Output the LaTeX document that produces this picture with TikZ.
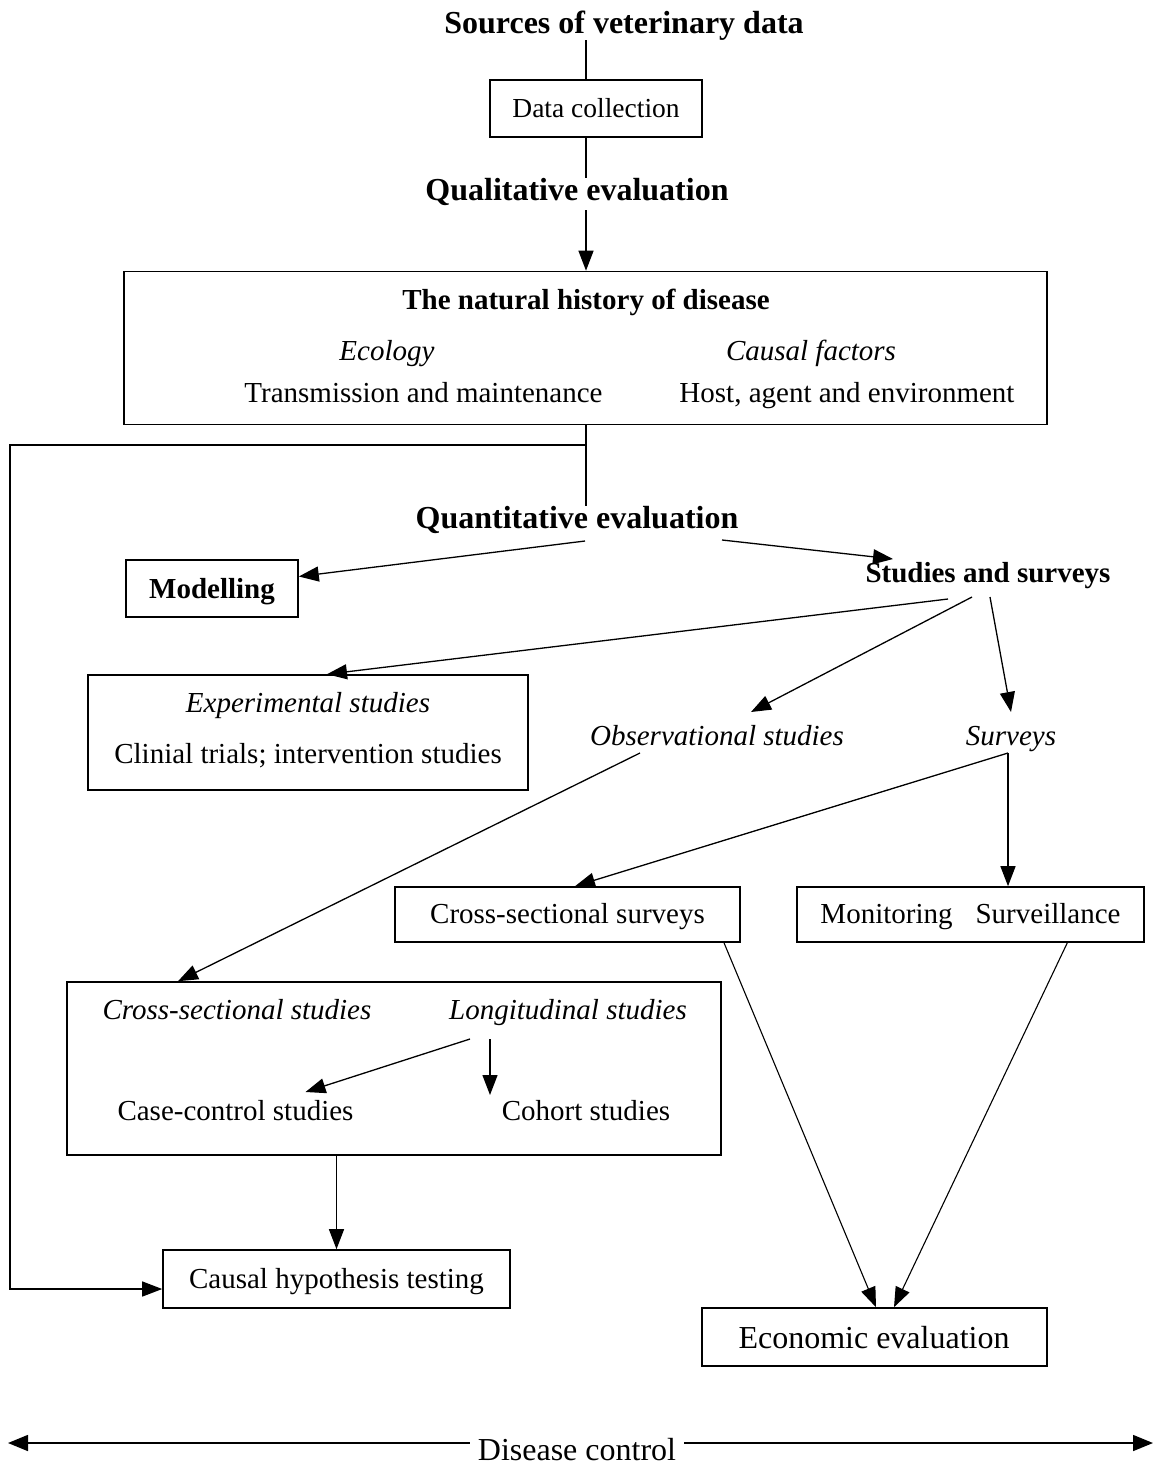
\documentclass[tikz,border=0pt]{standalone}
\usepackage{fontspec}
\setmainfont{Liberation Serif}
\usetikzlibrary{arrows.meta}
\tikzset{
  rm/.style={font=\fontsize{29}{34}\selectfont, inner sep=0pt, anchor=base},
  rmbig/.style={font=\fontsize{32}{38}\selectfont, inner sep=0pt, anchor=base},
  rmsmall/.style={font=\fontsize{27.5}{32}\selectfont, inner sep=0pt, anchor=base},
  hd/.style={font=\fontsize{32}{38}\selectfont\bfseries, inner sep=0pt, anchor=base},
  bd/.style={font=\fontsize{29}{34}\selectfont\bfseries, inner sep=0pt, anchor=base},
  it/.style={font=\fontsize{29}{34}\selectfont\itshape, inner sep=0pt, anchor=base},
  box/.style={draw, line width=1.6pt, inner sep=0pt},
  ln/.style={line width=1.3pt},
  arr/.style={line width=1.3pt, -{Triangle[length=20pt,width=15pt]}},
  tarr/.style={line width=1.1pt, -{Triangle[length=20pt,width=15pt]}},
}
\begin{document}
\begin{tikzpicture}[x=1pt,y=-1pt]
\useasboundingbox (0,0) rectangle (1161,1467);

% boxes
\node[box, minimum width=212pt, minimum height=57pt] (dc) at (596,108.5) {};
\node[box, minimum width=923pt, minimum height=153pt] (nh) at (585.5,348) {};
\node[box, minimum width=172pt, minimum height=57pt] (mod) at (212,588.5) {};
\node[box, minimum width=440pt, minimum height=115pt] (exp) at (308,732.5) {};
\node[box, minimum width=345pt, minimum height=55pt] (css) at (567.5,914.5) {};
\node[box, minimum width=347pt, minimum height=55pt] (mon) at (970.5,914.5) {};
\node[box, minimum width=654pt, minimum height=173pt] (stud) at (394,1068.5) {};
\node[box, minimum width=347pt, minimum height=58pt] (cht) at (336.5,1279) {};
\node[box, minimum width=345pt, minimum height=58pt] (eco) at (874.5,1337) {};

% texts
\node[hd] (src) at (624,33) {Sources of veterinary data};
\node[rmsmall] (dct) at (596,117) {Data collection};
\node[hd] (qual) at (577,200) {Qualitative evaluation};
\node[bd] (nht) at (586,309) {The natural history of disease};
\node[it] (eco1) at (387,360) {Ecology};
\node[it] (cf) at (811,360) {Causal factors};
\node[rm] (tm) at (423.5,402) {Transmission and maintenance};
\node[rm] (hae) at (847,402) {Host, agent and environment};
\node[hd] (quant) at (577,528) {Quantitative evaluation};
\node[bd] (modt) at (212,598) {Modelling};
\node[bd] (sas) at (988,582) {Studies and surveys};
\node[it] (expt) at (308,712) {Experimental studies};
\node[rm] (clin) at (308,763) {Clinial trials; intervention studies};
\node[it] (obs) at (717,745) {Observational studies};
\node[it] (sur) at (1011,745) {Surveys};
\node[rm] (csst) at (567.5,923) {Cross-sectional surveys};
\node[rm] (mont) at (970.5,923) {Monitoring\hspace{23pt}Surveillance};
\node[it] (cst) at (237,1019) {Cross-sectional studies};
\node[it] (lon) at (568,1019) {Longitudinal studies};
\node[rm] (cc) at (235.5,1120) {Case-control studies};
\node[rm] (coh) at (586,1120) {Cohort studies};
\node[rm] (chtt) at (336.5,1288) {Causal hypothesis testing};
\node[rmbig] (ecot) at (874,1348) {Economic evaluation};

% connector coordinates
\coordinate (sp) at (586,0);
\coordinate (jn) at (586,445);
\coordinate (lc1) at (10,445);
\coordinate (lc2) at (10,1289);
\coordinate (q1) at (585,541);
\coordinate (q2) at (722,540);
\coordinate (s1) at (948,599);
\coordinate (s2) at (972,597);
\coordinate (s3) at (990,597);
\coordinate (o1) at (640,753);
\coordinate (v1) at (1008,753);
\coordinate (l1) at (470,1039);
\coordinate (l2) at (490,1039);
\coordinate (dl) at (8,1443);
\coordinate (dr) at (1153,1443);

% connectors
\draw[ln] (src.south -| sp) -- (dc.north -| sp);
\draw[ln] (dc.south -| sp) -- (qual.north -| sp);
\draw[arr] (qual.south -| sp) ++(0,5) -- (nh.north -| sp);
\draw[ln] (nh.south -| sp) -- (quant.north -| sp);
\draw[arr] (jn) -- (lc1) -- (lc2) -- (lc2 -| cht.west);
\draw[arr] (q1) -- ([yshift=12pt]mod.east);
\draw[arr] (q2) -- ([xshift=-95pt,yshift=23pt]sas.base);
\draw[arr] (s1) -- ([xshift=19pt]exp.north);
\draw[arr] (s2) -- ([xshift=34pt,yshift=33pt]obs.base);
\draw[arr] (s3) -- ([yshift=33pt]sur.base);
\draw[arr] (o1) -- ([xshift=-216pt]stud.north);
\draw[arr] (v1) -- ([xshift=7.5pt]css.north);
\draw[arr] (v1) -- (v1 |- mon.north);
\draw[arr] (l1) -- ([xshift=70pt,yshift=28pt]cc.base);
\draw[arr] (l2) -- ([xshift=-96pt,yshift=25pt]coh.base);
\draw[arr] (cht.north |- stud.south) -- (cht.north);
\draw[tarr] ([xshift=156.5pt]css.south) -- ([xshift=1.5pt]eco.north);
\draw[tarr] ([xshift=-77.5pt]mon.south east) -- ([xshift=19.5pt]eco.north);
\draw[line width=1.6pt, {Triangle[length=20pt,width=16pt]}-{Triangle[length=20pt,width=16pt]}] (dl) -- (dr);
\node[rmbig, fill=white, inner xsep=8pt] (dctl) at (577,1460) {Disease control};
\end{tikzpicture}
\end{document}
